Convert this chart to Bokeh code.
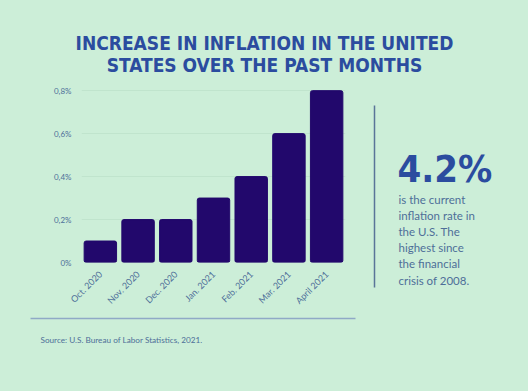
import math
from bokeh.plotting import figure
from bokeh.layouts import column, row
from bokeh.models import FixedTicker, Range1d
from bokeh.core.properties import value
from bokeh.embed import file_html
from bokeh.resources import INLINE

months = ["Oct. 2020", "Nov. 2020", "Dec. 2020", "Jan. 2021", "Feb. 2021", "Mar. 2021", "April 2021"]
inflation = [0.1, 0.2, 0.2, 0.3, 0.4, 0.6, 0.8]
y_ticks = [0, 0.2, 0.4, 0.6, 0.8]
y_tick_labels = ["0%", "0,2%", "0,4%", "0,6%", "0,8%"]
title_lines = ["INCREASE IN INFLATION IN THE UNITED", "STATES OVER THE PAST MONTHS"]
headline = "4.2%"
note_lines = ["is the current", "inflation rate in", "the U.S. The", "highest since", "the financial", "crisis of 2008."]
source = "Source: U.S. Bureau of Labor Statistics, 2021."

BG = "#CCEED8"
BAR = "#22086C"
BLUE = "#2B4C9F"
SLATE = "#4E6E98"
COND = "DejaVu Sans Condensed, Liberation Sans Narrow, Roboto, sans-serif"


def text_fig(w, h):
    f = figure(width=w, height=h, x_range=Range1d(0, w), y_range=Range1d(h, 0),
               x_axis_type=None, y_axis_type=None, output_backend="svg", toolbar_location=None,
               min_border=0, min_border_left=0, min_border_right=0, min_border_top=0, min_border_bottom=0,
               frame_align=False, styles={"background-color": BG})
    f.background_fill_color = BG
    f.border_fill_color = BG
    f.outline_line_color = None
    f.grid.visible = False
    return f


# --- title (page y 0..80)
t = text_fig(512, 80)
t.text(x=[264, 264], y=[42, 64], text=title_lines, text_font=value(COND), text_font_style="bold",
       text_font_size="19px", text_color=BLUE, text_align="center", text_baseline="middle")

# --- bar chart (page x 0..360, y 80..312)
p = figure(x_range=months, y_range=Range1d(0, 0.81), width=360, height=232,
           output_backend="svg", toolbar_location=None, frame_align=False,
           min_border_left=81, min_border_right=15, min_border_top=8, min_border_bottom=48,
           styles={"background-color": BG})
p.background_fill_color = BG
p.border_fill_color = BG
p.outline_line_color = None
p.vbar(x=months, top=inflation, width=0.86, color=BAR, border_radius=2)
p.yaxis.ticker = FixedTicker(ticks=y_ticks)
p.yaxis.major_label_overrides = {t_: l for t_, l in zip(y_ticks, y_tick_labels)}
for ax in (p.xaxis, p.yaxis):
    ax.axis_line_color = None
    ax.major_tick_line_color = None
    ax.minor_tick_line_color = None
    ax.major_label_text_color = SLATE
    ax.major_label_text_font = "Lato"
p.yaxis.major_label_text_font_size = "8px"
p.yaxis.major_label_standoff = 4
p.xaxis.major_label_text_font_size = "9px"
p.xaxis.major_label_orientation = math.pi / 4
p.xaxis.major_label_standoff = 4
p.xgrid.grid_line_color = None
p.ygrid.grid_line_color = "#C0E4CD"

# --- side note (page x 360..512, y 80..312)
s = text_fig(152, 232)
s.segment(x0=[14], y0=[25], x1=[14], y1=[207], line_color="#5A7498", line_width=1.5)
s.text(x=[37], y=[88], text=[headline], text_font=value(COND), text_font_style="bold",
       text_font_size="38px", text_color=BLUE, text_align="left", text_baseline="middle")
s.text(x=[38] * len(note_lines), y=[119 + 16.1 * i for i in range(len(note_lines))], text=note_lines,
       text_font=value("Lato"), text_font_size="11.5px", text_color=SLATE,
       text_align="left", text_baseline="middle")

# --- bottom (page y 312..375)
b = text_fig(512, 63)
b.segment(x0=[30], y0=[6], x1=[355], y1=[6], line_color="#8FA9C6", line_width=1.5)
b.text(x=[40], y=[27], text=[source], text_font=value("Lato"), text_font_size="8.2px",
       text_color=SLATE, text_align="left", text_baseline="middle")

layout = column(t, row(p, s, spacing=0, styles={"background-color": BG}), b, spacing=0,
                styles={"background-color": BG})

html = file_html(layout, INLINE)
html = html.replace("</head>", "<style>html, body { background: %s; }</style></head>" % BG, 1)
open("out.html", "w").write(html)
